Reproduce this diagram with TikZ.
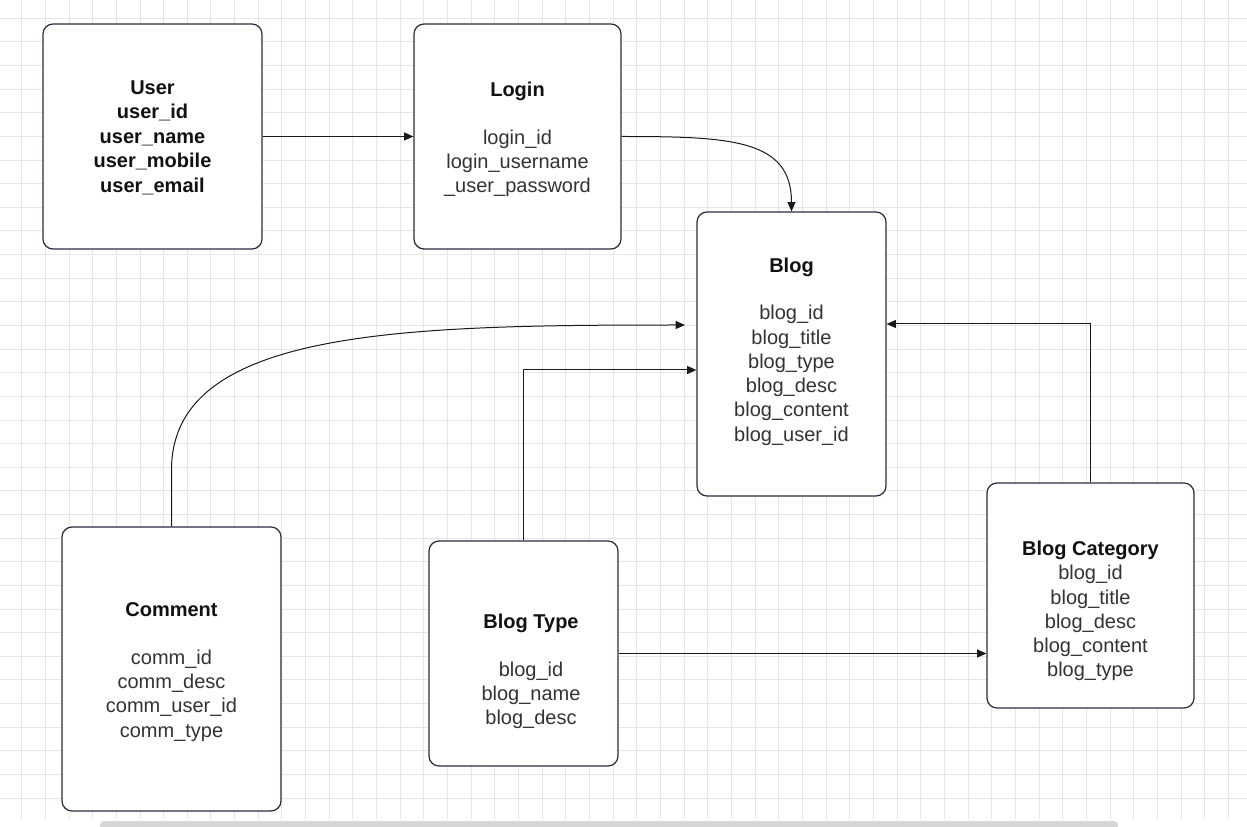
\documentclass[tikz,border=0pt]{standalone}
\usepackage{fontspec}
\setmainfont{Liberation Sans}
\usetikzlibrary{arrows.meta,calc}
\definecolor{gridc}{HTML}{E6E6E6}
\definecolor{boxc}{HTML}{2B2B40}
\definecolor{txtc}{HTML}{333333}
\definecolor{boldc}{HTML}{111111}
\definecolor{linec}{HTML}{1A1A1A}
\definecolor{scrollc}{HTML}{D6D6D6}
\tikzset{
  entity/.style={draw=boxc, line width=0.9pt, fill=white, rounded corners=7.5pt, inner sep=0pt},
  etext/.style={align=center, text=txtc, font=\fontsize{15}{18.2}\selectfont, inner sep=0pt},
  conn/.style={draw=linec, line width=0.75pt, -{Triangle[length=7pt,width=6pt]}},
}
\newcommand{\ttl}[1]{\textcolor{boldc}{\textbf{#1}}}
\begin{document}
\begin{tikzpicture}[x=0.75pt,y=-0.75pt]
\useasboundingbox (0,0) rectangle (1247,827);
\fill[white] (0,0) rectangle (1247,827);
% grid
\foreach \k in {0,...,51} {
  \draw[gridc, line width=0.75pt] ({21.7+\k*23.66},0) -- ({21.7+\k*23.66},819);
}
\foreach \k in {0,...,33} {
  \draw[gridc, line width=0.75pt] (0,{18.3+\k*23.63}) -- (1247,{18.3+\k*23.63});
}
% scrollbar
\fill[scrollc, rounded corners=3pt] (100,830) -- (100,821) -- (1118,821) -- (1118,830) -- cycle;

% boxes
\node[entity, minimum width=219*0.75pt, minimum height=225*0.75pt] (user) at (152.5,136.5) {};
\node[entity, minimum width=207*0.75pt, minimum height=225*0.75pt] (login) at (517.5,136.5) {};
\node[entity, minimum width=189*0.75pt, minimum height=284*0.75pt] (blog) at (791.5,354) {};
\node[entity, minimum width=219*0.75pt, minimum height=284*0.75pt] (comment) at (171.5,669) {};
\node[entity, minimum width=189*0.75pt, minimum height=225*0.75pt] (btype) at (523.5,653.5) {};
\node[entity, minimum width=207*0.75pt, minimum height=225*0.75pt] (bcat) at (1090.5,595.5) {};

% texts
\node[etext, text=boldc, font=\fontsize{15}{18.4}\selectfont\bfseries] (usertxt) at (152.5,137.5)
  {User\\user\_id\\user\_name\\user\_mobile\\user\_email};
\node[etext] (logintxt) at (517.5,139.5)
  {\ttl{Login}\\[17.5pt]login\_id\\login\_username\\\_user\_password};
\node[etext] (blogtxt) at (791.5,351.5)
  {\ttl{Blog}\\[17.5pt]blog\_id\\blog\_title\\blog\_type\\blog\_desc\\blog\_content\\blog\_user\_id};
\node[etext] (commenttxt) at (171.5,672)
  {\ttl{Comment}\\[17.5pt]comm\_id\\comm\_desc\\comm\_user\_id\\comm\_type};
\node[etext] (btypetxt) at (531,671.5)
  {\ttl{Blog Type}\\[17.5pt]blog\_id\\blog\_name\\blog\_desc};
\node[etext] (bcattxt) at (1090.5,611)
  {\ttl{Blog Category}\\blog\_id\\blog\_title\\blog\_desc\\blog\_content\\blog\_type};

% helper coordinates
\coordinate (cend) at (685,325);
\coordinate (y370) at (0,370);
\coordinate (y324) at (0,324);

% connectors
\draw[conn] (user.east) -- (login.west);
\draw[conn] (login.east) .. controls ($(login.east)+(110,0)$) and ($(blog.north)+(0,-72)$) .. (blog.north);
\draw[conn] (comment.north) -- ++(0,-57) .. controls (172,330) and (400,325) .. (cend);
\draw[conn] (btype.north) |- (blog.west |- y370);
\draw[conn] (btype.east) -- (btype.east -| bcat.west);
\draw[conn] (bcat.north) |- (blog.east |- y324);
\end{tikzpicture}
\end{document}
